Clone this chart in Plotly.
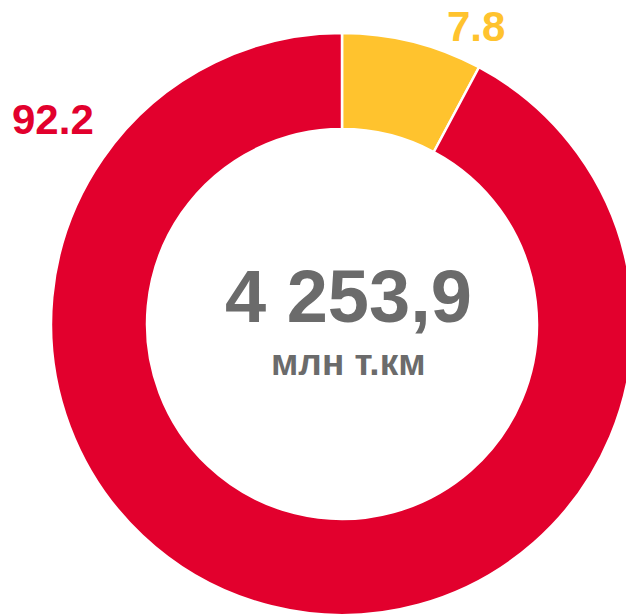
import plotly.graph_objects as go

# ---- data ----
categories = ["Доля A", "Доля B"]
shares = [7.8, 92.2]
colors = ["#FFC32E", "#E2002D"]
total_label = "4 253,9"
unit_label = "млн т.км"

W, H = 634, 616

def px(x):
    return x / W

def py(y):
    return 1 - y / H

fig = go.Figure()
fig.add_trace(go.Pie(
    labels=categories,
    values=shares,
    hole=0.67,
    sort=False,
    direction="clockwise",
    rotation=0,
    marker=dict(colors=colors, line=dict(color="white", width=2.5)),
    textinfo="none",
    hoverinfo="label+value",
    showlegend=False,
    domain=dict(x=[px(51), px(633)], y=[py(615), py(33)]),
))

font_family = "Arial, 'Liberation Sans', sans-serif"
anns = [
    dict(text=f"{shares[1]}", x=px(53), y=py(120), color=colors[1], size=42),
    dict(text=f"{shares[0]}", x=px(476), y=py(26), color=colors[0], size=42),
    dict(text=total_label, x=px(348), y=py(296), color="#6B6B6B", size=74),
    dict(text=unit_label, x=px(348), y=py(362), color="#6B6B6B", size=37),
]
for a in anns:
    fig.add_annotation(
        text=a["text"], x=a["x"], y=a["y"], xref="paper", yref="paper",
        xanchor="center", yanchor="middle", showarrow=False,
        font=dict(family=font_family, size=a["size"], color=a["color"], weight="bold"),
    )

fig.update_layout(
    width=W, height=H,
    margin=dict(l=0, r=0, t=0, b=0),
    paper_bgcolor="white",
    plot_bgcolor="white",
)

fig.write_html(
    "out.html",
    config={"displayModeBar": False},
    post_script="document.body.style.margin='0';document.body.style.overflow='hidden';",
)
